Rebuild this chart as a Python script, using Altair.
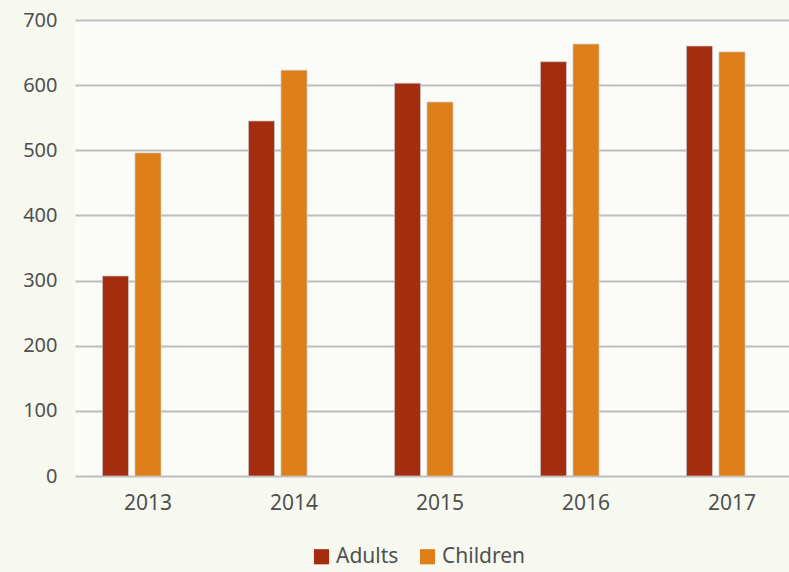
import altair as alt
import pandas as pd

years = ["2013", "2014", "2015", "2016", "2017"]
adults = [307, 545, 603, 636, 660]
children = [496, 623, 574, 663, 651]
series = ["Adults", "Children"]
colors = ["#a42d10", "#df7f19"]

rows = []
for i, y in enumerate(years):
    rows.append({"year": y, "series": "Adults", "value": adults[i]})
    rows.append({"year": y, "series": "Children", "value": children[i]})
df = pd.DataFrame(rows)

FONT = "Noto Sans"
GREY = "#505050"

chart = alt.Chart(df).mark_bar(stroke="#c8c8c8", strokeWidth=0.7).encode(
    x=alt.X("year:N", sort=years, title=None,
            scale=alt.Scale(range=[0, 730], paddingInner=0, paddingOuter=0),
            axis=alt.Axis(labelAngle=0, domain=False, ticks=False, labelPadding=16,
                          labelFontSize=21, labelColor=GREY, labelFont=FONT)),
    xOffset=alt.XOffset("series:N",
                        scale=alt.Scale(domain=["Adults", "Children", "_empty"],
                                        paddingInner=0.2, paddingOuter=0.845)),
    y=alt.Y("value:Q", title=None,
            scale=alt.Scale(domain=[0, 700], nice=False),
            axis=alt.Axis(values=[0, 100, 200, 300, 400, 500, 600, 700], domain=False,
                          ticks=False, labelPadding=18, labelFontSize=20,
                          labelColor=GREY, labelFont=FONT,
                          gridColor="#bdbdbd", gridWidth=2)),
    color=alt.Color("series:N",
                    scale=alt.Scale(domain=series, range=colors),
                    legend=alt.Legend(title=None, orient="none", direction="horizontal",
                                      legendX=236, legendY=526,
                                      symbolType="square", symbolSize=230,
                                      symbolStrokeWidth=0, labelFontSize=21,
                                      labelColor=GREY, labelFont=FONT,
                                      labelOffset=4, columnPadding=18)),
).properties(
    width=714, height=456,
    background="#f7f9f0",
    padding={"left": 75, "top": 20, "right": 0, "bottom": 96},
    autosize=alt.AutoSizeParams(type="none"),
).configure_view(stroke=None, fill="#fbfcf8")

chart.save("out.html", embed_options={"renderer": "svg", "actions": False})
